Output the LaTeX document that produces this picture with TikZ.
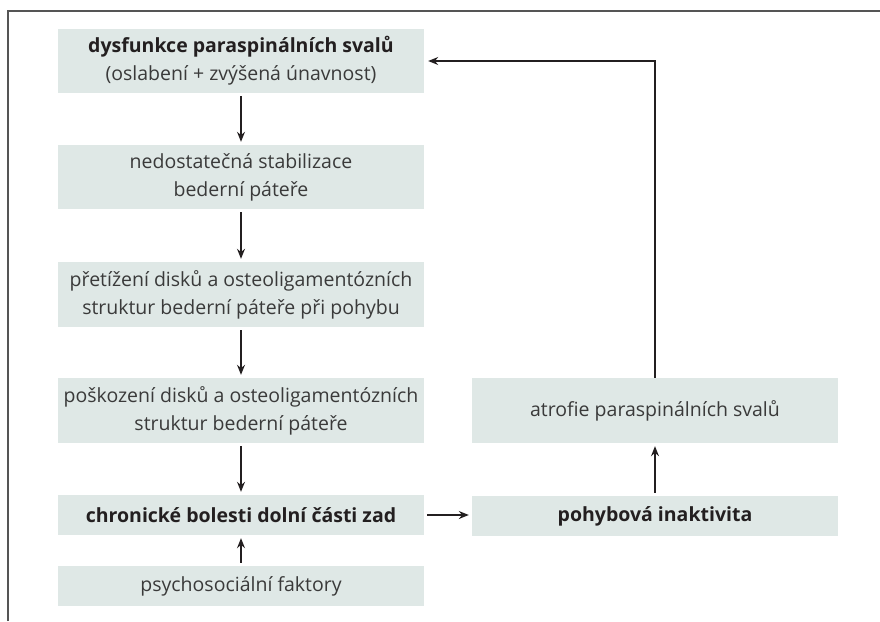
\documentclass[tikz,border=0pt]{standalone}
\usepackage{fontspec}
\setmainfont{Open Sans}
\usetikzlibrary{arrows.meta}
\definecolor{boxfill}{HTML}{DFE8E6}
\definecolor{txt}{HTML}{3A3A3A}
\definecolor{boldtxt}{HTML}{231F20}
\definecolor{frame}{HTML}{555555}
\tikzset{
  stepbox/.style={rectangle, fill=boxfill, draw=none, minimum width=366pt, inner sep=0pt, align=center, text=txt, font=\fontsize{19.5}{28}\selectfont},
  conn/.style={draw=boldtxt, line width=1.2pt, -{Stealth[length=10pt,width=8pt]}, shorten >=3pt, shorten <=3pt}
}
\begin{document}
\begin{tikzpicture}[x=1pt,y=-1pt]
\useasboundingbox (0,0) rectangle (880,621);
\draw[frame, line width=1.3pt] (8,621) -- (8,11) -- (880,11);
\node[stepbox, minimum height=64pt] (b1) at (241,61) {{\bfseries\color{boldtxt}dysfunkce paraspinálních svalů}\\(oslabení + zvýšená únavnost)};
\node[stepbox, minimum height=64pt] (b2) at (241,177) {nedostatečná stabilizace\\bederní páteře};
\node[stepbox, minimum height=65pt] (b3) at (241,294.5) {přetížení disků a osteoligamentózních\\struktur bederní páteře při pohybu};
\node[stepbox, minimum height=65pt] (b4) at (241,410.5) {poškození disků a osteoligamentózních\\struktur bederní páteře};
\node[stepbox, minimum height=40pt] (b5) at (241,515) {\bfseries\color{boldtxt}chronické bolesti dolní části zad};
\node[stepbox, minimum height=40pt] (b6) at (241,586) {psychosociální faktory};
\node[stepbox, minimum height=65pt] (r1) at (655,410.5) {atrofie paraspinálních svalů};
\node[stepbox, minimum height=40pt] (r2) at (655,516) {\bfseries\color{boldtxt}pohybová inaktivita};
\coordinate (corner) at (655,61);
\draw[conn] (b1) -- (b2);
\draw[conn] (b2) -- (b3);
\draw[conn] (b3) -- (b4);
\draw[conn] (b4) -- (b5);
\draw[conn] (b6) -- (b5);
\draw[conn] (b5.east) -- (r2.west |- b5.east);
\draw[conn] (r2) -- (r1);
\draw[conn, shorten <=0pt, shorten >=4pt] (r1.north) -- (corner) -- (b1.east);
\end{tikzpicture}
\end{document}
